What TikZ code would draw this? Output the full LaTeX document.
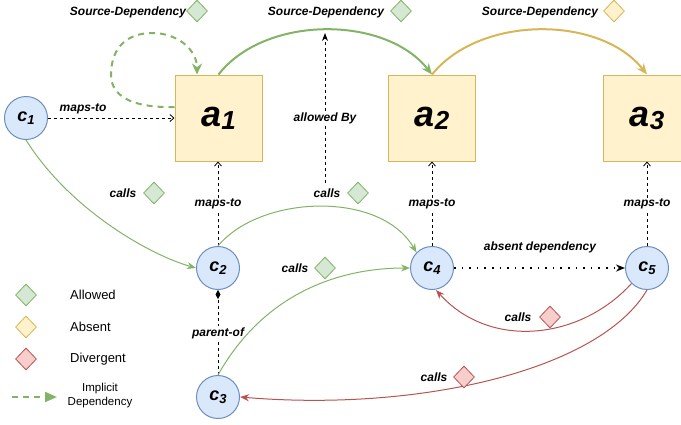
\documentclass[tikz,border=0pt]{standalone}
\usepackage{fontspec}
\setmainfont{Liberation Sans}
\usetikzlibrary{shapes.geometric,arrows.meta}
\definecolor{yfill}{HTML}{FFF2CC}\definecolor{ydraw}{HTML}{D6B656}
\definecolor{bfill}{HTML}{DAE8FC}\definecolor{bdraw}{HTML}{6C8EBF}
\definecolor{gfill}{HTML}{D5E8D4}\definecolor{gdraw}{HTML}{82B366}
\definecolor{rfill}{HTML}{F8CECC}\definecolor{rdraw}{HTML}{B85450}
\newcommand\bigsub[2]{#1\raisebox{-3pt}{\fontsize{26}{28}\selectfont #2}}
\newcommand\smallsub[2]{#1\raisebox{-3pt}{\fontsize{13}{14}\selectfont #2}}
\begin{document}
\begin{tikzpicture}[x=1pt,y=-1pt,
 abox/.style={rectangle,draw=ydraw,fill=yfill,line width=1pt,minimum width=87pt,minimum height=86pt,inner sep=0pt,font=\fontsize{36}{40}\selectfont\bfseries\itshape},
 cnode/.style={circle,draw=bdraw,fill=bfill,line width=1pt,minimum size=43pt,inner sep=0pt,font=\fontsize{18}{20}\selectfont\bfseries\itshape},
 gdia/.style={diamond,draw=gdraw,fill=gfill,line width=0.8pt,minimum width=21pt,minimum height=22pt,inner sep=0pt},
 ydia/.style={gdia,draw=ydraw,fill=yfill},
 rdia/.style={gdia,draw=rdraw,fill=rfill},
 lbl/.style={font=\fontsize{12}{14}\selectfont\bfseries\itshape,inner sep=1pt},
 wlbl/.style={lbl,fill=white},
 leg/.style={font=\fontsize{13}{15}\selectfont,anchor=west,inner sep=0pt},
 mapsto/.style={draw=black,line width=0.8pt,dash pattern=on 3pt off 3pt,-{Straight Barb[length=4pt,width=7pt]}},
 gcall/.style={draw=gdraw,line width=1pt,-{Stealth[length=9pt,width=7pt]}},
 rcall/.style={draw=rdraw,line width=1pt,-{Stealth[length=9pt,width=7pt]}},
 srcdep/.style={line width=2pt,-{Stealth[length=11pt,width=9pt]}},
]
\useasboundingbox (0,0) rectangle (681,424);

% architecture boxes
\node[abox] (a1) at (218.5,118) {\bigsub{a}{1}};
\node[abox] (a2) at (432,118) {\bigsub{a}{2}};
\node[abox] (a3) at (647,118) {\bigsub{a}{3}};

% code nodes
\node[cnode] (c1) at (26,118) {\smallsub{c}{1}};
\node[cnode] (c2) at (218,268) {\smallsub{c}{2}};
\node[cnode] (c3) at (218,397) {\smallsub{c}{3}};
\node[cnode] (c4) at (432,268) {\smallsub{c}{4}};
\node[cnode] (c5) at (647,268) {\smallsub{c}{5}};

% source dependencies
\draw[srcdep,draw=gdraw] (a1.north) .. controls (265,15) and (385,15) .. (a2.north);
\draw[srcdep,draw=ydraw] (a2.north) .. controls (480,15) and (600,15) .. (a3.north);
\node[lbl] (sd1) at (128,12) {Source-Dependency};
\node[gdia] (sd1d) at (197,11) {};
\node[lbl] (sd2) at (326,12) {Source-Dependency};
\node[gdia] (sd2d) at (401,11) {};
\node[lbl] (sd3) at (540,12) {Source-Dependency};
\node[ydia] (sd3d) at (614,11) {};

% implicit dependency loop
\draw[draw=gdraw,line width=2pt,dash pattern=on 6pt off 5pt,-{Stealth[length=11pt,width=10pt]}]
  ([yshift=11pt]a1.west) .. controls (130,108) and (111,95) .. (111,75)
  .. controls (111,45) and (130,33) .. (152,33)
  .. controls (178,33) and (197,50) .. ([xshift=-21.5pt]a1.north);

% allowed By
\coordinate (ab1) at (325,183);
\coordinate (ab2) at (325,33);
\draw[draw=black,line width=0.8pt,dash pattern=on 3pt off 3pt,-{Stealth[length=8pt,width=6pt]}] (ab1) -- (ab2);
\node[wlbl] (abl) at (325,118) {allowed By};

% maps-to
\draw[mapsto] (c1.east) -- (a1.west);
\node[lbl] (m1) at (83,109) {maps-to};
\draw[mapsto] (c2.north) -- (c2.north |- a1.south);
\node[wlbl] (m2) at (218,204) {maps-to};
\draw[mapsto] (c4.north) -- (c4.north |- a2.south);
\node[wlbl] (m3) at (432,204) {maps-to};
\draw[mapsto] (c5.north) -- (c5.north |- a3.south);
\node[wlbl] (m4) at (647,204) {maps-to};

% parent-of
\draw[draw=black,line width=0.8pt,dash pattern=on 3pt off 3pt,-{Diamond[length=9pt,width=5pt]}] (c3.north) -- (c2.south);
\node[wlbl] (po) at (218,333) {parent-of};

% calls (allowed)
\draw[gcall] (c1.south) .. controls (70,210) and (150,255) .. (c2.west);
\node[lbl] (k1) at (123,193) {calls};
\node[gdia] (k1d) at (154,193) {};
\draw[gcall] (c2.north) .. controls (260,195) and (380,190) .. (c4.north west);
\node[lbl] (k2) at (327,193) {calls};
\node[gdia] (k2d) at (358,193) {};
\draw[gcall] (c3.north) .. controls (260,300) and (330,268) .. (c4.west);
\node[lbl] (k3) at (295,268) {calls};
\node[gdia] (k3d) at (325,268) {};

% absent dependency
\draw[draw=black,line width=1.6pt,dash pattern=on 1.6pt off 6pt,-{Stealth[length=9pt,width=7pt]}] (c4.east) -- (c5.west);
\node[lbl] (adl) at (540,247) {absent dependency};

% calls (divergent)
\draw[rcall] (c5.south west) .. controls (580,340) and (490,350) .. ([xshift=4pt]c4.south);
\node[lbl] (k4) at (518,317) {calls};
\node[rdia] (k4d) at (550,317) {};
\draw[rcall] (c5.south) .. controls (600,370) and (420,412) .. (c3.east);
\node[lbl] (k5) at (434,377) {calls};
\node[rdia] (k5d) at (464,377) {};

% legend
\node[gdia] (lg1) at (26,295) {};
\node[leg] (lt1) at (70,295) {Allowed};
\node[ydia] (lg2) at (26,327) {};
\node[leg] (lt2) at (70,327) {Absent};
\node[rdia] (lg3) at (26,359) {};
\node[leg] (lt3) at (70,359) {Divergent};
\coordinate (li1) at (12,397);
\coordinate (li2) at (57,397);
\draw[draw=gdraw,line width=2pt,dash pattern=on 6pt off 5pt,-{Triangle[length=12pt,width=10pt]}] (li1) -- (li2);
\node[font=\fontsize{11.5}{14}\selectfont,align=center,inner sep=0pt] (lt4) at (100,396) {Implicit\\Dependency};
\end{tikzpicture}
\end{document}
